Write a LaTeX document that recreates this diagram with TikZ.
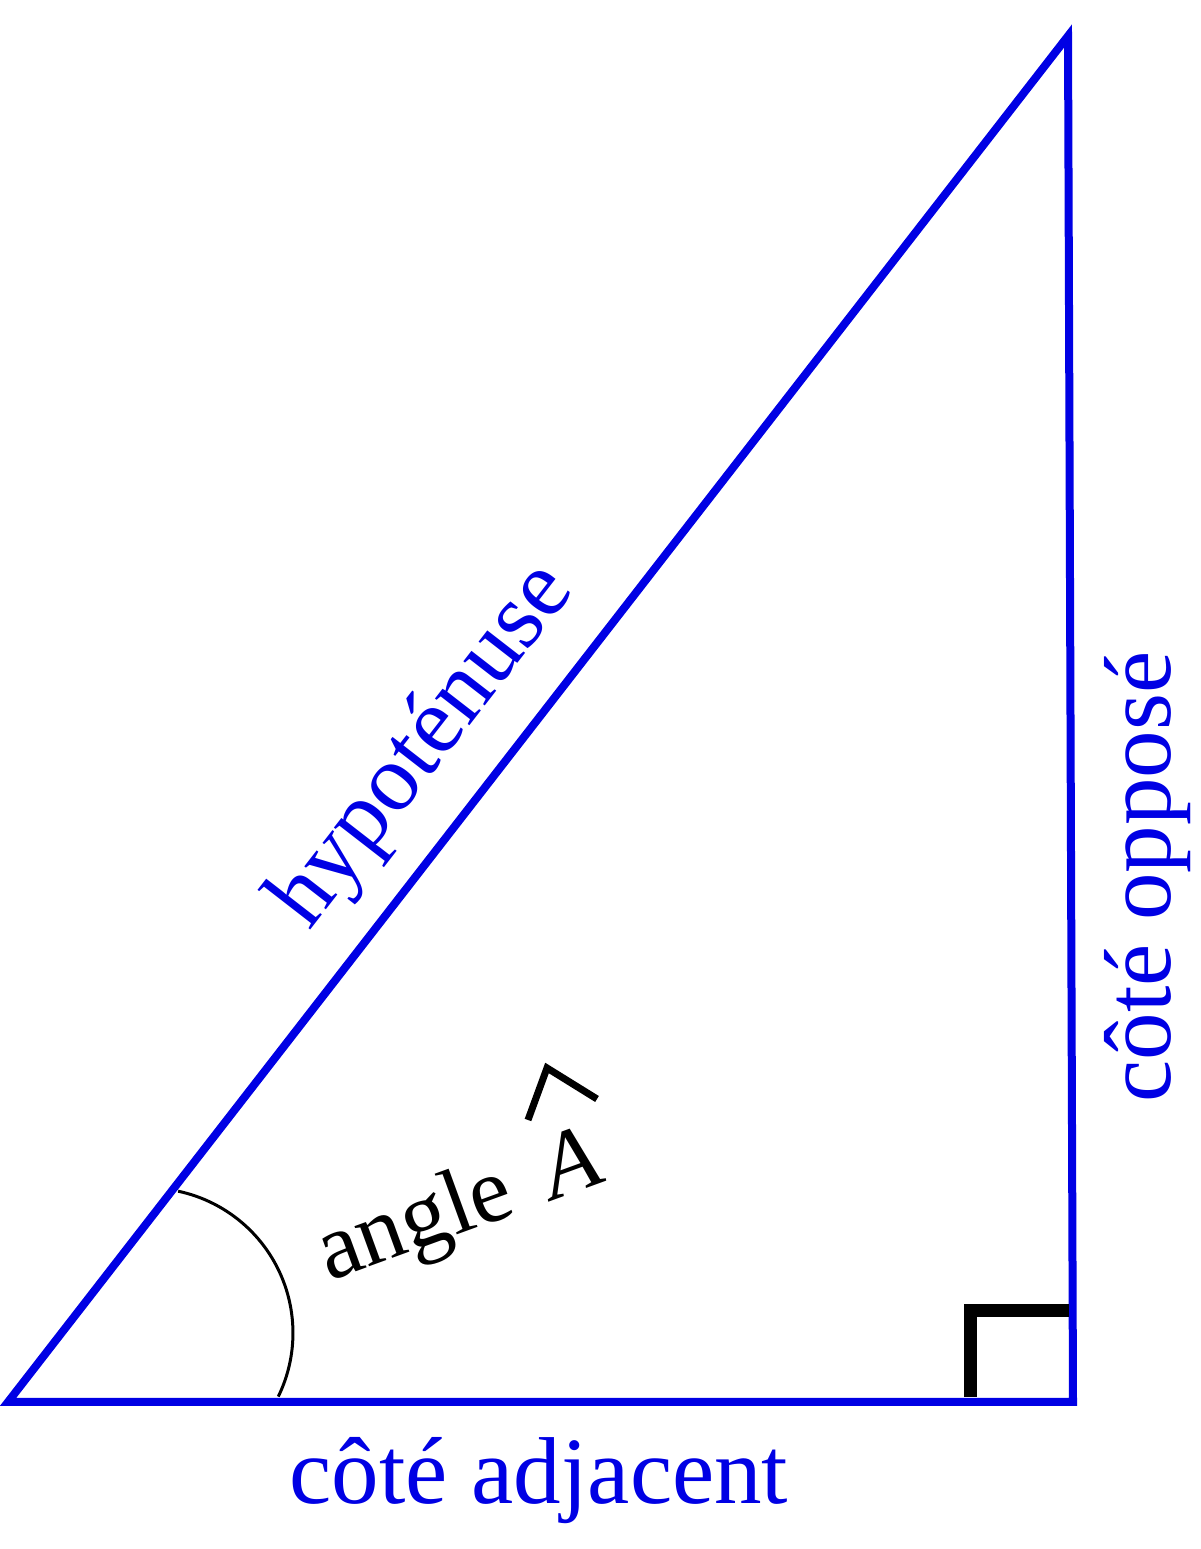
\documentclass[tikz,border=0pt]{standalone}
\usepackage{fontspec}
\setmainfont{Liberation Serif}
\usetikzlibrary{calc}

\definecolor{sideblue}{RGB}{0,0,228}

\begin{document}
\begin{tikzpicture}[x=1pt, y=1pt,
  side/.style={draw=sideblue, line width=8pt},
  side label/.style={text=sideblue, inner sep=0pt, font=\fontsize{95}{95}\selectfont},
  angle label/.style={inner sep=0pt, font=\fontsize{93}{93}\selectfont}]

\useasboundingbox (0,0) rectangle (1200,1549);

\coordinate (A) at (8,147);
\coordinate (C) at (1073,147);
\coordinate (B) at (1068,1513);

% triangle
\draw [side] (A) -- (C) -- (B) -- cycle;

% right angle
\draw [line width=13pt] (970,152) -- (970,238.5) -- (1069,238.5);

% angle arc
\coordinate (arc-start) at (178.1,357.8);
\draw [line width=3pt] (arc-start) arc [start angle=78, end angle=-26, radius=145];

% labels
\node [side label, anchor=base] (adjacent) at (539,45) {côté adjacent};
\node [side label, anchor=base, rotate=90] (oppose) at (1170,672) {côté opposé};
\node [side label, anchor=base, rotate=52.19] (hypo)
  at ($(A)!0.447!(B)+(142.19:50)$) {hypoténuse};

\node [angle label, anchor=base west, rotate=20] (angle) at (329,267) {angle\hspace{0.4em}\textit{A}};
\draw [line width=7pt] (528,429) -- (547,481) -- (597,450);

\end{tikzpicture}
\end{document}
